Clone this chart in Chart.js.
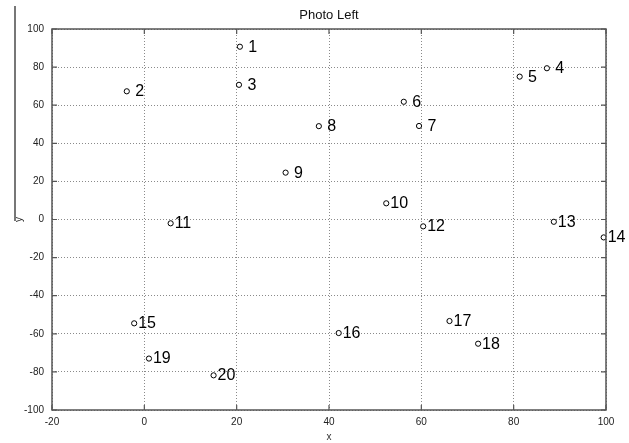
<!DOCTYPE html>
<html>
<head>
<meta charset="utf-8">
<script src="https://cdn.jsdelivr.net/npm/chart.js@4"></script>
<style>
  html, body { margin: 0; padding: 0; background: #fff; }
  #wrap { width: 629px; height: 443px; }
</style>
</head>
<body>
<div id="wrap"><canvas id="c" width="629" height="443"></canvas></div>
<script>
// ---- Data ----
const pointNames = ["1","2","3","4","5","6","7","8","9","10","11","12","13","14","15","16","17","18","19","20"];
const xValues = [20.7, -3.8, 20.5, 87.2, 81.3, 56.2, 59.5, 37.8, 30.6, 52.4, 5.7, 60.4, 88.7, 99.5, -2.2, 42.1, 66.1, 72.3, 1.0, 15.0];
const yValues = [90.7, 67.3, 70.7, 79.4, 75.0, 61.8, 49.1, 49.0, 24.6, 8.5, -2.0, -3.6, -1.2, -9.4, -54.5, -59.6, -53.3, -65.2, -73.0, -81.8];
const xTicks = [-20, 0, 20, 40, 60, 80, 100];
const yTicks = [-100, -80, -60, -40, -20, 0, 20, 40, 60, 80, 100];
const titleText = "Photo Left";
const xTitle = "x";
const yTitle = "y";

const points = xValues.map((x, i) => ({ x: x, y: yValues[i] }));

const tickFont = { family: "'Liberation Sans Narrow', 'Liberation Sans', Arial, sans-serif", size: 10 };

const decorPlugin = {
  id: 'decor',
  beforeDraw(chart) {
    const ctx = chart.ctx;
    ctx.save();
    ctx.fillStyle = '#fff';
    ctx.fillRect(0, 0, chart.width, chart.height);
    ctx.restore();
  },
  afterDraw(chart) {
    const ctx = chart.ctx;
    const a = chart.chartArea;
    const xs = chart.scales.x, ys = chart.scales.y;
    ctx.save();
    // box
    ctx.strokeStyle = '#555';
    ctx.lineWidth = 1.5;
    ctx.strokeRect(a.left, a.top, a.right - a.left, a.bottom - a.top);
    // inward ticks
    ctx.lineWidth = 1.2;
    ctx.beginPath();
    xTicks.forEach(v => {
      const px = xs.getPixelForValue(v);
      ctx.moveTo(px, a.bottom); ctx.lineTo(px, a.bottom - 5);
      ctx.moveTo(px, a.top); ctx.lineTo(px, a.top + 5);
    });
    yTicks.forEach(v => {
      const py = ys.getPixelForValue(v);
      ctx.moveTo(a.left, py); ctx.lineTo(a.left + 5, py);
      ctx.moveTo(a.right, py); ctx.lineTo(a.right - 5, py);
    });
    ctx.stroke();
    // title
    ctx.fillStyle = '#111';
    ctx.font = "13px 'Liberation Sans', Arial, sans-serif";
    ctx.textAlign = 'center';
    ctx.textBaseline = 'middle';
    ctx.fillText(titleText, (a.left + a.right) / 2, 15);
    // left edge artifact line
    ctx.strokeStyle = '#777';
    ctx.lineWidth = 2;
    ctx.beginPath();
    ctx.moveTo(15, 6); ctx.lineTo(15, 221);
    ctx.stroke();
    ctx.restore();
  },
  afterDatasetsDraw(chart) {
    const ctx = chart.ctx;
    const meta = chart.getDatasetMeta(0);
    ctx.save();
    ctx.fillStyle = '#000';
    ctx.font = "16px 'Liberation Sans', Arial, sans-serif";
    ctx.textAlign = 'left';
    ctx.textBaseline = 'middle';
    meta.data.forEach((el, i) => {
      const txt = pointNames[i].length < 2 ? ' ' + pointNames[i] : pointNames[i];
      ctx.fillText(txt, el.x + 4, el.y + 0.5);
    });
    ctx.restore();
  }
};

new Chart(document.getElementById('c'), {
  type: 'scatter',
  data: {
    datasets: [{
      data: points,
      pointStyle: 'circle',
      pointRadius: 2.6,
      pointHoverRadius: 2.6,
      borderColor: '#000',
      backgroundColor: '#fff',
      pointBorderWidth: 1,
      showLine: false
    }]
  },
  options: {
    responsive: false,
    animation: false,
    events: [],
    layout: { padding: { left: 0, right: 23, top: 29, bottom: 0 } },
    plugins: {
      legend: { display: false },
      title: { display: false },
      tooltip: { enabled: false }
    },
    scales: {
      x: {
        type: 'linear',
        min: -20, max: 100,
        afterBuildTicks(scale) { scale.ticks = xTicks.map(v => ({ value: v })); },
        afterFit(scale) { scale.height = 33; },
        ticks: { font: tickFont, color: '#222', padding: 6, maxRotation: 0 },
        grid: { color: '#8a8a8a', lineWidth: 1, drawTicks: false, tickBorderDash: [1, 2] },
        border: { display: false, dash: [1, 2] },
        title: { display: true, text: xTitle, color: '#333', font: { family: "'Liberation Sans', Arial, sans-serif", size: 10 }, padding: 0 }
      },
      y: {
        type: 'linear',
        min: -100, max: 100,
        afterBuildTicks(scale) { scale.ticks = yTicks.map(v => ({ value: v })); },
        afterFit(scale) { scale.width = 52; },
        ticks: { font: tickFont, color: '#222', padding: 8 },
        grid: { color: '#8a8a8a', lineWidth: 1, drawTicks: false },
        border: { display: false, dash: [1, 2] },
        title: { display: true, text: yTitle, color: '#333', font: { family: "'Liberation Sans', Arial, sans-serif", size: 10 }, padding: { top: 13, bottom: 0 } }
      }
    }
  },
  plugins: [decorPlugin]
});
</script>
</body>
</html>
